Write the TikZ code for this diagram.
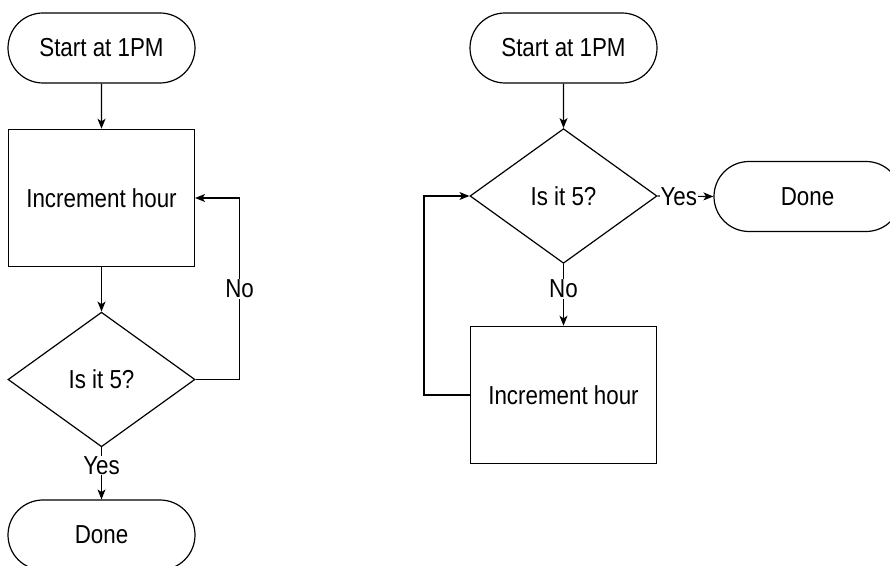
\documentclass[tikz,border=0pt]{standalone}
\usepackage{fontspec}
\setmainfont[FakeStretch=0.86]{Liberation Sans}
\usetikzlibrary{arrows.meta, shapes.geometric, shapes.misc}

\begin{document}
\begin{tikzpicture}[
  x=0.75pt, y=-0.75pt,
  font=\fontsize{19.5}{22}\selectfont,
  term/.style={draw, line width=0.9pt, rounded rectangle, minimum width=140.25pt, minimum height=52.5pt, inner sep=0pt},
  proc/.style={draw, line width=0.9pt, rectangle, minimum width=139.5pt, minimum height=103pt, inner sep=0pt},
  dec/.style={draw, line width=0.9pt, diamond, minimum width=140.25pt, minimum height=101pt, inner sep=0pt},
  flow/.style={-{Stealth[length=7.5pt, width=6pt, inset=2pt]}, line width=0.9pt},
  lbl/.style={fill=white, inner sep=0.6pt},
]
% page, in pixels of the reference; the two done boxes run off its edges
\clip (0,0) rectangle (890,566);
\useasboundingbox (0,0) rectangle (890,566);
% left chart: increment first, test after
\node[term] (lstart) at (101.5,48) {Start at 1PM};
\node[proc] (linc) at (101.5,198) {Increment hour};
\node[dec] (ldec) at (101.5,379.5) {Is it 5?};
\node[term] (ldone) at (101.5,535) {Done};
\draw[flow] (lstart) -- (linc);
\draw[flow] (linc) -- (ldec);
\draw[flow] (ldec.south) -- node[lbl, pos=0.35] {Yes} (ldone.north);
\draw[flow] (ldec.east) -- ++(44,0) |- node[lbl, pos=0.25] {No} (linc.east);
% right chart: test first, increment after
\node[term] (rstart) at (563.5,48) {Start at 1PM};
\node[dec] (rdec) at (563.5,196) {Is it 5?};
\node[term] (rdone) at (807.5,196.5) {Done};
\node[proc] (rinc) at (563.5,395) {Increment hour};
\draw[flow] (rstart) -- (rdec);
\draw[flow] (rdec.east) -- node[lbl, pos=0.38] {Yes} (rdone.west);
\draw[flow] (rdec.south) -- node[lbl, pos=0.4] {No} (rinc.north);
\draw[flow] (rinc.west) -- ++(-46,0) |- (rdec.west);
\end{tikzpicture}
\end{document}
